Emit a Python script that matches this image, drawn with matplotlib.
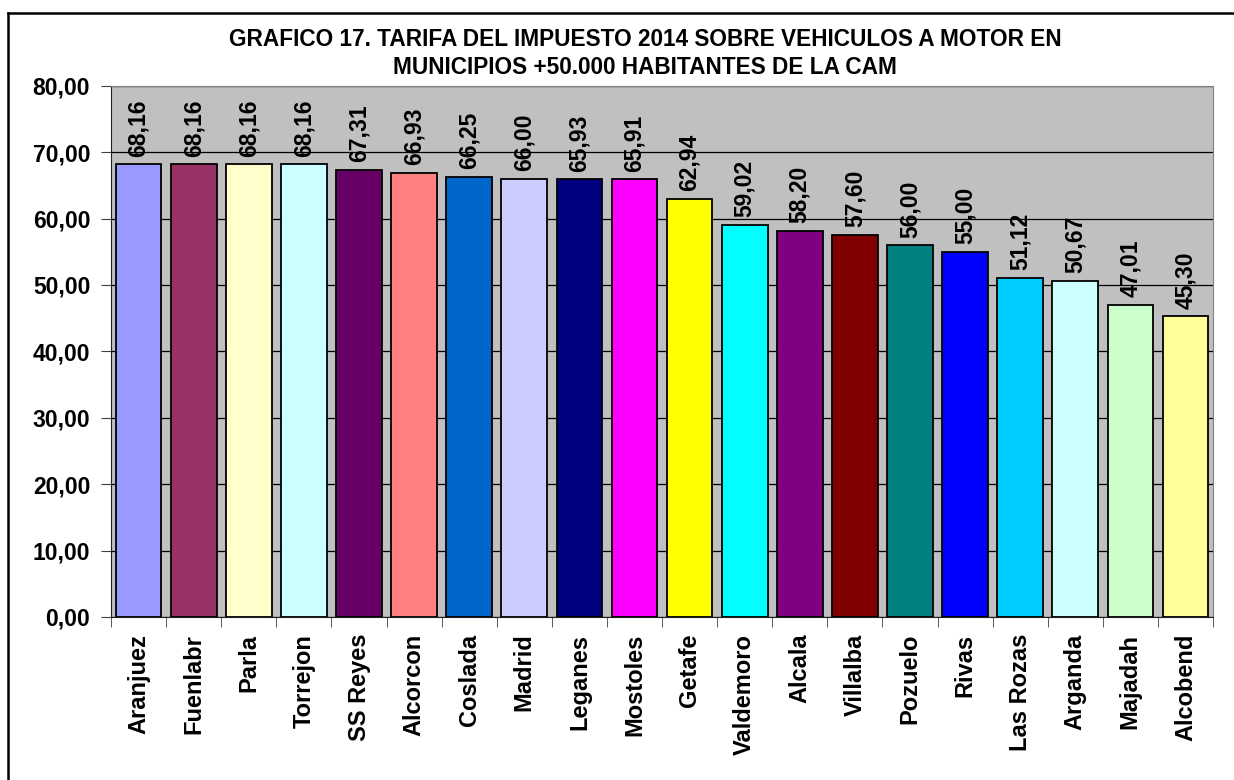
import numpy as np
import matplotlib.pyplot as plt
from matplotlib.lines import Line2D

municipios = ['Aranjuez', 'Fuenlabr', 'Parla', 'Torrejon', 'SS Reyes', 'Alcorcon',
              'Coslada', 'Madrid', 'Leganes', 'Mostoles', 'Getafe', 'Valdemoro',
              'Alcala', 'Villalba', 'Pozuelo', 'Rivas', 'Las Rozas', 'Arganda',
              'Majadah', 'Alcobend']
tarifas = [68.16, 68.16, 68.16, 68.16, 67.31, 66.93, 66.25, 66.00, 65.93, 65.91,
           62.94, 59.02, 58.20, 57.60, 56.00, 55.00, 51.12, 50.67, 47.01, 45.30]
colores = ['#9999FF', '#993366', '#FFFFCC', '#CCFFFF', '#660066', '#FF8080',
           '#0066CC', '#CCCCFF', '#000080', '#FF00FF', '#FFFF00', '#00FFFF',
           '#800080', '#800000', '#008080', '#0000FF', '#00CCFF', '#CCFFFF',
           '#CCFFCC', '#FFFF99']
titulo = ('GRAFICO 17. TARIFA DEL IMPUESTO 2014 SOBRE VEHICULOS A MOTOR EN\n'
          'MUNICIPIOS +50.000 HABITANTES DE LA CAM')

plt.rcParams['font.family'] = ['Liberation Sans', 'DejaVu Sans']
plt.rcParams['font.weight'] = 'bold'

fig = plt.figure(figsize=(12.34, 7.8), dpi=100)
ax = fig.add_axes([0.09, 0.209, 0.893, 0.681])

x = np.arange(len(municipios))
barras = ax.bar(x, tarifas, width=0.83, color=colores, edgecolor='black',
                linewidth=1.3, zorder=3)
ax.bar_label(barras, labels=[f'{v:.2f}'.replace('.', ',') for v in tarifas],
             padding=5.5, rotation=90, fontsize=16.5, fontweight='bold')

ax.set_facecolor('#C0C0C0')
ax.set_xlim(-0.5, len(municipios) - 0.5)
ax.set_ylim(0, 80)
ax.set_yticks(np.arange(0, 81, 10))
ax.set_yticklabels([f'{v:.2f}'.replace('.', ',') for v in np.arange(0, 81, 10)],
                   fontsize=16.5, fontweight='bold')
ax.grid(axis='y', color='black', linewidth=0.9, zorder=1)
ax.set_axisbelow(True)

ax.set_xticks(x)
ax.set_xticklabels(municipios, rotation=90, fontsize=17, fontweight='bold')
ax.tick_params(axis='x', which='major', length=0, pad=12)
ax.set_xticks(np.arange(-0.5, len(municipios), 1), minor=True)
ax.tick_params(axis='x', which='minor', length=7, color='#404040')
ax.tick_params(axis='y', length=7, color='#404040', pad=8)

for lado in ['top', 'right']:
    ax.spines[lado].set_color('#808080')
for lado in ['left', 'bottom']:
    ax.spines[lado].set_color('#202020')

fig.text(0.5227, 0.931, titulo, ha='center', va='center', fontsize=16.3,
         fontweight='bold', linespacing=1.28)

# marco exterior (solo se ven los bordes superior e izquierdo)
fig.add_artist(Line2D([0.0068, 0.0068], [0.0, 0.983], transform=fig.transFigure,
                      color='black', linewidth=1.8))
fig.add_artist(Line2D([0.0068, 1.0], [0.983, 0.983], transform=fig.transFigure,
                      color='black', linewidth=1.8))

fig.savefig('out.png', dpi=100)
